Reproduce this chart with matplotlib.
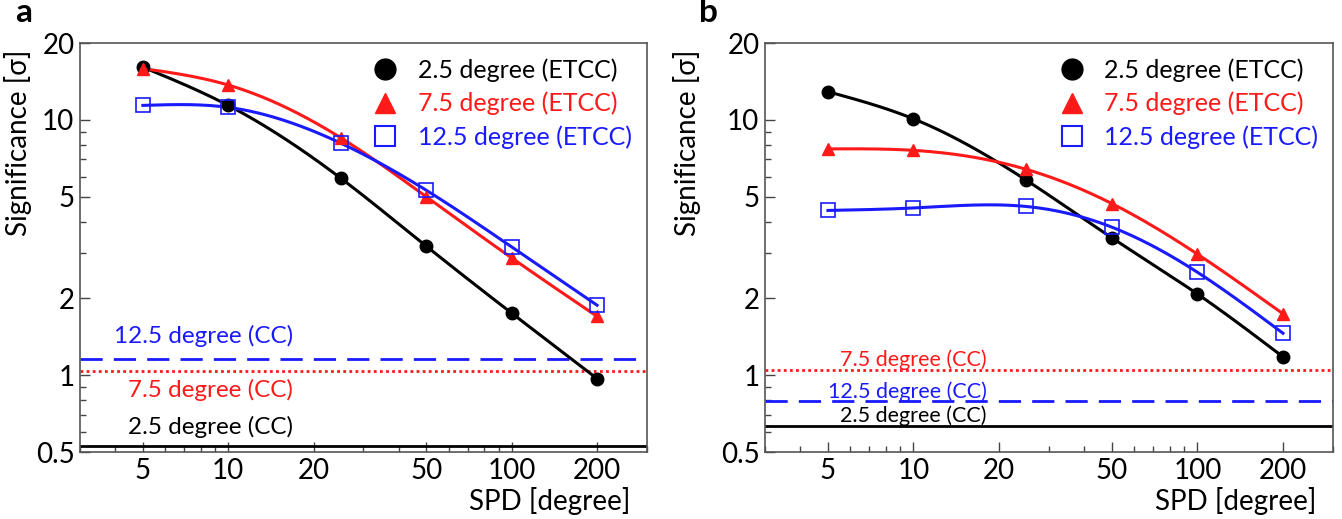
import numpy as np
import matplotlib
matplotlib.use('Agg')
import matplotlib.pyplot as plt
from matplotlib.ticker import FixedLocator, NullFormatter

plt.rcParams['font.family'] = ['Lato', 'DejaVu Sans']

# data
spd = [5, 10, 25, 50, 100, 200]

a_etcc_25 = [16.1, 11.4, 5.9, 3.2, 1.75, 0.97]
a_etcc_75 = [15.9, 13.7, 8.5, 5.0, 2.88, 1.70]
a_etcc_125 = [11.4, 11.2, 8.1, 5.3, 3.18, 1.88]
a_cc = {'2.5': 0.528, '7.5': 1.04, '12.5': 1.155}

b_etcc_25 = [12.9, 10.1, 5.8, 3.45, 2.08, 1.18]
b_etcc_75 = [7.7, 7.6, 6.4, 4.7, 2.98, 1.74]
b_etcc_125 = [4.42, 4.52, 4.58, 3.80, 2.53, 1.46]
b_cc = {'2.5': 0.63, '7.5': 1.05, '12.5': 0.79}

ytick_vals = [0.5, 1, 2, 5, 10, 20]
ytick_labels = ['0.5', '1', '2', '5', '10', '20']
xtick_vals = [5, 10, 20, 50, 100, 200]

BLUE = '#1a1aff'
RED = '#ff1a1a'


def smooth(x, y, n=300):
    # natural cubic spline in log-log space, only for drawing the connecting curve
    lx = np.log10(np.asarray(x, float))
    ly = np.log10(np.asarray(y, float))
    k = len(lx)
    h = np.diff(lx)
    A = np.zeros((k, k))
    r = np.zeros(k)
    A[0, 0] = A[-1, -1] = 1
    for i in range(1, k - 1):
        A[i, i - 1] = h[i - 1]
        A[i, i] = 2 * (h[i - 1] + h[i])
        A[i, i + 1] = h[i]
        r[i] = 6 * ((ly[i + 1] - ly[i]) / h[i] - (ly[i] - ly[i - 1]) / h[i - 1])
    M = np.linalg.solve(A, r)
    xs = np.linspace(lx[0], lx[-1], n)
    ys = np.empty_like(xs)
    for j, xv in enumerate(xs):
        i = min(np.searchsorted(lx, xv) - 1, k - 2)
        i = max(i, 0)
        t1 = lx[i + 1] - xv
        t0 = xv - lx[i]
        ys[j] = (M[i] * t1**3 + M[i + 1] * t0**3) / (6 * h[i]) \
            + (ly[i] / h[i] - M[i] * h[i] / 6) * t1 \
            + (ly[i + 1] / h[i] - M[i + 1] * h[i] / 6) * t0
    return 10**xs, 10**ys


def panel(ax, s25, s75, s125, cc, letter, cc_fs, cc_pos, ylab_x):
    ax.set_xscale('log')
    ax.set_yscale('log')
    ax.set_xlim(3, 300)
    ax.set_ylim(0.5, 20)

    for s, col in [(s25, 'black'), (s75, RED), (s125, BLUE)]:
        xs, ys = smooth(spd, s)
        ax.plot(xs, ys, color=col, lw=2.2, zorder=3)

    ax.plot(spd, s25, 'o', color='black', ms=9, zorder=4)
    ax.plot(spd, s75, '^', color=RED, ms=9, zorder=4)
    ax.plot(spd, s125, 's', mfc='none', mec=BLUE, mew=1.2, ms=10, zorder=5)

    ax.axhline(cc['2.5'], color='black', lw=2, zorder=2)
    ax.axhline(cc['7.5'], color=RED, lw=2, ls=(0, (1, 1.2)), zorder=2)
    ax.axhline(cc['12.5'], color=BLUE, lw=2, ls=(0, (8, 4)), zorder=2)

    for key, col in [('12.5', BLUE), ('7.5', RED), ('2.5', 'black')]:
        xp, yp = cc_pos[key]
        ax.text(xp, yp, key + ' degree (CC)', color=col, fontsize=cc_fs,
                transform=ax.transAxes, ha='right', va='center')

    # legend
    h1, = ax.plot([], [], 'o', color='black', ms=15)
    h2, = ax.plot([], [], '^', color=RED, ms=15)
    h3, = ax.plot([], [], 's', mfc='none', mec=BLUE, mew=1.5, ms=15)
    leg = ax.legend([h1, h2, h3],
                    ['2.5 degree (ETCC)', '7.5 degree (ETCC)', '12.5 degree (ETCC)'],
                    loc='upper right', frameon=False, fontsize=18,
                    handlelength=1.0, handletextpad=0.8, labelspacing=0.4,
                    borderaxespad=0.2, bbox_to_anchor=(1.0, 1.0))
    for t, c in zip(leg.get_texts(), ['black', RED, BLUE]):
        t.set_color(c)

    ax.yaxis.set_major_locator(FixedLocator(ytick_vals))
    ax.set_yticklabels(ytick_labels)
    ax.yaxis.set_minor_locator(FixedLocator([0.6, 0.7, 0.8, 0.9, 3, 4, 6, 7, 8, 9]))
    ax.yaxis.set_minor_formatter(NullFormatter())
    ax.xaxis.set_major_locator(FixedLocator(xtick_vals))
    ax.set_xticklabels([str(v) for v in xtick_vals])
    ax.xaxis.set_minor_locator(FixedLocator([3, 4, 6, 7, 8, 9, 30, 40, 60, 70, 80, 90, 300]))
    ax.xaxis.set_minor_formatter(NullFormatter())

    ax.tick_params(which='both', direction='in', top=False, right=False,
                   labelsize=20, color='#444444', width=1)
    ax.tick_params(which='major', length=7, pad=4)
    ax.tick_params(which='minor', length=4)
    ax.tick_params(axis='y', pad=4)
    for sp in ax.spines.values():
        sp.set_color('#555555')
        sp.set_linewidth(1.2)

    ax.set_xlabel('SPD [degree]', fontsize=20, ha='right')
    ax.xaxis.set_label_coords(0.97, -0.085)
    ax.set_ylabel('Significance [σ]', fontsize=20, ha='right')
    ax.yaxis.set_label_coords(ylab_x, 0.985)
    ax.text(-0.1, 1.075, letter, transform=ax.transAxes,
            fontsize=24, fontweight='bold', ha='center', va='center')


fig = plt.figure(figsize=(13.42, 5.19), dpi=100)
ax1 = fig.add_axes([0.0596, 0.129, 0.4225, 0.788])
ax2 = fig.add_axes([0.570, 0.129, 0.4233, 0.788])

panel(ax1, a_etcc_25, a_etcc_75, a_etcc_125, a_cc, 'a', 17.5,
      {'12.5': (0.376, 0.285), '7.5': (0.376, 0.152), '2.5': (0.376, 0.062)}, -0.085)
panel(ax2, b_etcc_25, b_etcc_75, b_etcc_125, b_cc, 'b', 15.5,
      {'7.5': (0.39, 0.225), '12.5': (0.39, 0.148), '2.5': (0.39, 0.09)}, -0.113)

fig.savefig('out.png', dpi=100)
